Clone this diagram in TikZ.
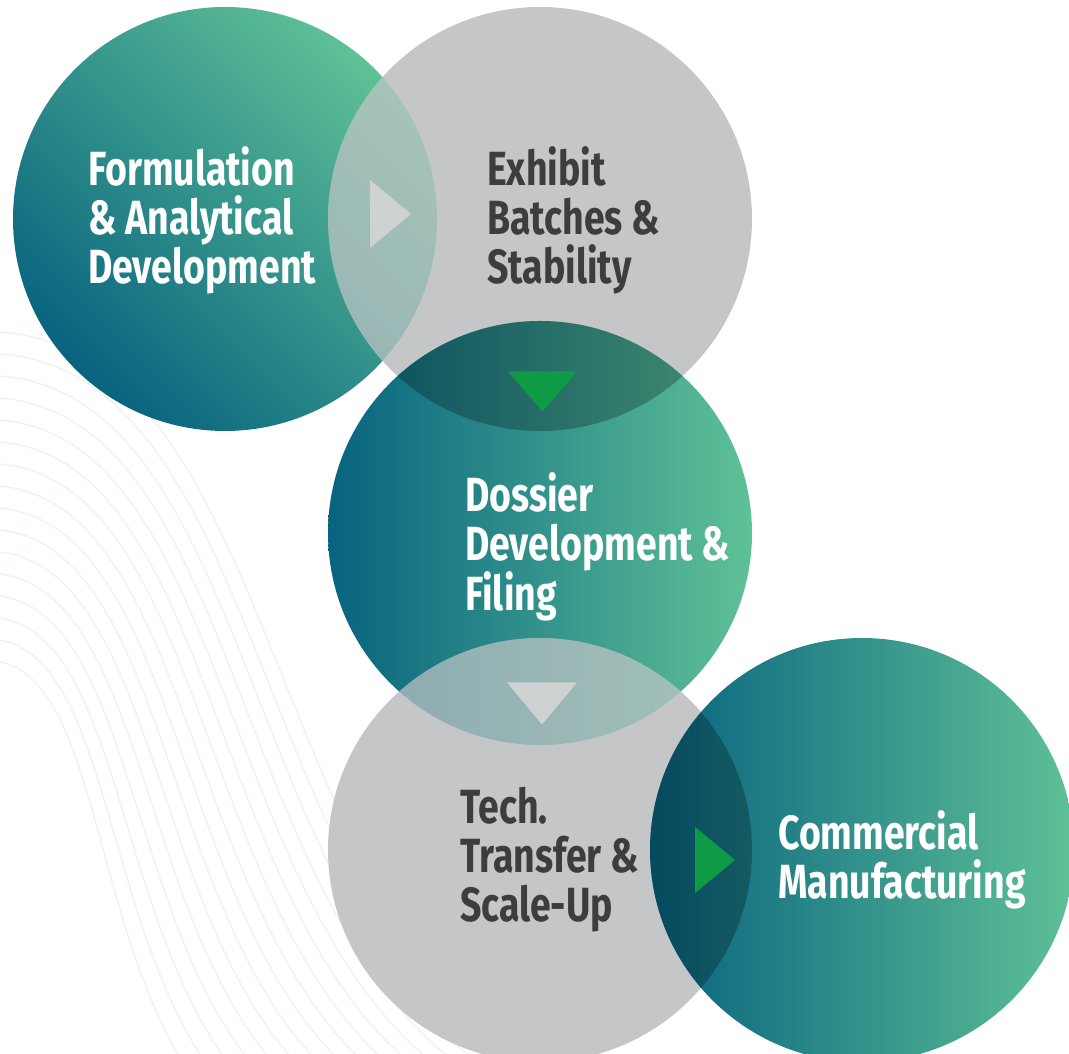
\documentclass[tikz,border=0pt]{standalone}
\usepackage{fontspec}
\usepackage{xcolor}
\usepackage{tikz}
\usetikzlibrary{calc}
\newfontfamily\stagefont{Fira Sans}[FakeStretch=0.78]
\definecolor{tealdark}{HTML}{07637F}
\definecolor{tealgreen}{HTML}{5FC197}
\definecolor{stagegrey}{HTML}{C5C6C8}
\definecolor{greytext}{HTML}{3C3D3F}
\definecolor{arrowgreen}{HTML}{0F9A45}
\definecolor{arrowlight}{HTML}{CFD2D3}
\definecolor{wave}{HTML}{EBF2F5}

\begin{document}
\begin{tikzpicture}[x=1pt,y=1pt,
      stage/.style={circle,inner sep=0pt,minimum size=424pt},
      tealdiag/.style={stage,left color=tealdark,right color=tealgreen,shading angle=135},
      tealflat/.style={stage,left color=tealdark,right color=tealgreen},
      greystage/.style={stage,fill=stagegrey},
      stagetext/.style={font=\stagefont\bfseries\fontsize{48}{49}\selectfont,align=left,anchor=west,inner sep=0pt},
      waveline/.style={draw=wave,line width=1.3pt}
  ]
    \useasboundingbox (0,0) rectangle (1069,1054);

    % faint background waves
    \begin{scope}
      \clip (0,0) rectangle (1069,1054);
      \foreach \i in {-4,...,11} {
        \pgfmathsetmacro{\xe}{480-25*\i}
        \draw[waveline] (0,634-22*\i) .. controls (0.5*\xe,614-22*\i) and (0.45*\xe,100) .. (\xe,-40);
      }
    \end{scope}

    % circles, drawn in order so that each one lies on the previous
    \node[tealdiag] (c1) at (225,835) {};
    \node[greystage] (c2) at (540,835) {};
    \begin{scope}
      \clip (c2.center) circle[radius=212];
      \shade[left color=tealdark,right color=tealgreen,shading angle=135,opacity=.3] (c1.center) circle[radius=212];
    \end{scope}
    \node[tealflat] (c3) at (540,521) {};
    \begin{scope}
      \clip (c2.center) circle[radius=212];
      \fill[black,opacity=.25] (c3.center) circle[radius=212];
    \end{scope}
    \node[greystage] (c4) at (540,204) {};
    \begin{scope}
      \clip (c4.center) circle[radius=212];
      \shade[left color=tealdark,right color=tealgreen,opacity=.3] (c3.center) circle[radius=212];
    \end{scope}
    \node[tealflat] (c5) at (862,204) {};
    \begin{scope}
      \clip (c4.center) circle[radius=212];
      \fill[black,opacity=.25] (c5.center) circle[radius=212];
    \end{scope}

    % arrow heads in the overlaps
    \coordinate (a12) at ($(c1.center)!0.5!(c2.center)+(7.5,5)$);
    \coordinate (a23) at ($(c2.center)!0.5!(c3.center)+(2.5,-15.5)$);
    \coordinate (a34) at ($(c3.center)!0.5!(c4.center)+(2,-12)$);
    \coordinate (a45) at ($(c4.center)!0.5!(c5.center)+(14,-10)$);
    \fill[arrowlight] ($(a12)+(-20,34)$) -- ($(a12)+(21,0)$) -- ($(a12)+(-20,-34)$) -- cycle;
    \fill[arrowgreen] ($(a23)+(-34.5,20)$) -- ($(a23)+(34.5,20)$) -- ($(a23)+(0,-20)$) -- cycle;
    \fill[arrowlight] ($(a34)+(-35,21)$) -- ($(a34)+(35,21)$) -- ($(a34)+(0,-21)$) -- cycle;
    \fill[arrowgreen] ($(a45)+(-20,33)$) -- ($(a45)+(20,0)$) -- ($(a45)+(-20,-33)$) -- cycle;

    % labels
    \node[stagetext,text=white] (t1) at ($(c1.center)+(-137,-1)$) {Formulation\\\& Analytical\\Development};
    \node[stagetext,text=greytext] (t2) at ($(c2.center)+(-53,-1)$) {Exhibit\\Batches \&\\Stability};
    \node[stagetext,text=white] (t3) at ($(c3.center)+(-75,-14)$) {Dossier\\Development \&\\Filing};
    \node[stagetext,text=greytext] (t4) at ($(c4.center)+(-80,-10)$) {Tech.\\Transfer \&\\Scale-Up};
    \node[stagetext,text=white] (t5) at ($(c5.center)+(-84,-10)$) {Commercial\\Manufacturing};
  \end{tikzpicture}
\end{document}
